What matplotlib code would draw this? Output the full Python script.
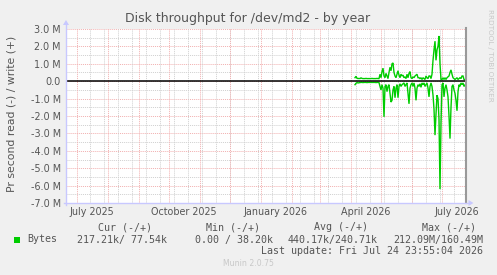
import matplotlib
matplotlib.use("Agg")
import matplotlib.pyplot as plt
import matplotlib.dates as mdates
from matplotlib.lines import Line2D
from matplotlib.patches import Polygon
import numpy as np
import pandas as pd
from datetime import datetime, timedelta

# ---------------- data (MB/s, daily averages) ----------------
start_date = "2026-04-05"
write_m = [0.20, 0.28, 0.17, 0.15, 0.16, 0.15, 0.19, 0.16, 0.15, 0.15, 0.15, 0.16, 0.15,
           0.15, 0.15, 0.15, 0.15, 0.16, 0.15, 0.15, 0.15, 0.15, 0.16, 0.15, 0.15,
           0.40, 0.20, 0.55, 0.75, 0.30, 0.20, 0.45, 0.30, 0.15, 0.50, 0.80, 0.60, 1.00, 1.05,
           0.50, 0.30, 0.20, 0.40, 0.60, 0.35, 0.20, 0.40, 0.30, 0.35, 0.20, 0.25, 0.15, 0.40,
           0.20, 0.45, 0.55, 0.20, 0.15, 0.25, 0.20, 0.30, 0.35, 0.40, 0.20, 0.20, 0.15, 0.20,
           0.10, 0.20, 0.15, 0.10, 0.30, 0.20, 0.15, 0.30, 0.30, 0.15, 0.40, 1.20, 1.80, 2.30,
           1.20, 1.80, 2.00, 2.60, 1.00, 0.10, 0.10, 0.20, 0.10, 0.20, 0.10, 0.20, 0.25, 0.30,
           0.50, 0.65, 0.40, 0.20, 0.15, 0.10, 0.15, 0.20, 0.10, 0.15, 0.20, 0.15, 0.30, 0.30,
           0.10, 0.08]
read_m = [-0.20, -0.12, -0.08, -0.10, -0.09, -0.08, -0.07, -0.07, -0.08, -0.07, -0.07, -0.07, -0.08,
          -0.07, -0.07, -0.07, -0.07, -0.07, -0.07, -0.07, -0.07, -0.08, -0.07, -0.07, -0.08,
          -0.30, -0.50, -0.20, -0.40, -2.05, -0.30, -0.20, -0.60, -0.30, -0.20, -0.70, -1.20, -1.10, -0.50,
          -0.30, -0.95, -0.40, -0.20, -0.95, -0.30, -0.15, -0.30, -0.20, -0.15, -0.10, -0.30, -0.20, -0.10,
          -0.70, -1.30, -0.40, -0.20, -0.10, -0.30, -0.10, -0.40, -1.10, -0.40, -0.20, -0.30, -0.15, -0.35,
          -0.10, -0.20, -0.10, -0.30, -0.20, -0.10, -0.40, -0.90, -0.30, -0.10, -0.30, -0.80, -1.60, -3.10,
          -1.90, -0.80, -1.00, -2.20, -6.20, -2.40, -0.20, -0.10, -0.90, -0.40, -0.20, -0.50, -0.90, -2.00,
          -3.30, -1.50, -0.30, -0.20, -0.50, -0.70, -1.10, -1.70, -0.60, -0.20, -0.30, -0.10, -0.20, -0.10,
          -0.30, -0.22]

yticks_m = [3, 2, 1, 0, -1, -2, -3, -4, -5, -6, -7]
xtick_labels = ["July 2025", "October 2025", "January 2026", "April 2026", "July 2026"]
xtick_dates = ["2025-07-16", "2025-10-16", "2026-01-16", "2026-04-16", "2026-07-16"]

legend_series = "Bytes"
legend_heads = ["Cur (-/+)", "Min (-/+)", "Avg (-/+)", "Max (-/+)"]
legend_vals = ["217.21k/ 77.54k", "0.00 / 38.20k", "440.17k/240.71k", "212.09M/160.49M"]
last_update = "Last update: Fri Jul 24 23:55:04 2026"
end_time = datetime(2026, 7, 24, 23, 55, 4)

# ---------------- figure ----------------
W, H = 497, 275
fig = plt.figure(figsize=(W / 100, H / 100), dpi=100, facecolor="#F0F0F0")

def fx(x):
    return x / W

def fy(y):
    return 1 - y / H

left, right, top, bottom = 66.5, 465.5, 29, 203
ax = fig.add_axes([fx(left), fy(bottom), (right - left) / W, (bottom - top) / H])
ax.set_facecolor("white")
for s in ax.spines.values():
    s.set_visible(False)

t_end = mdates.date2num(end_time)
t_start = t_end - (right - left)
ax.set_xlim(t_start, t_end)
ax.set_ylim(-7e6, 3e6)

# grid
mgrid = "#F2B0B0"
ngrid = "#D0D0D0"
dash = (0, (1, 1))
for v in np.arange(-6.5, 3.0, 1.0):
    ax.axhline(v * 1e6, color=ngrid, lw=0.7, ls=dash, zorder=1)
for v in yticks_m:
    ax.axhline(v * 1e6, color=mgrid, lw=0.7, ls=dash, zorder=1)

d = datetime(2025, 7, 14)
while d < end_time:
    ax.axvline(mdates.date2num(d), color=ngrid, lw=0.7, ls=dash, zorder=1)
    d += timedelta(days=14)
for y, m in [(2025, 7), (2025, 8), (2025, 9), (2025, 10), (2025, 11), (2025, 12), (2026, 1),
             (2026, 2), (2026, 3), (2026, 4), (2026, 5), (2026, 6), (2026, 7)]:
    ax.axvline(mdates.date2num(datetime(y, m, 1)), color=mgrid, lw=0.7, ls=dash, zorder=1)

# data
dates = pd.date_range(start_date, periods=len(write_m), freq="D") + pd.Timedelta(hours=12)
w = np.array(write_m) * 1e6
r = np.array(read_m) * 1e6
ax.plot(dates, r, color="#00CC00", lw=1.0, zorder=3, solid_joinstyle="miter")
ax.plot(dates, w, color="#00CC00", lw=1.0, zorder=3, solid_joinstyle="miter")
ax.axhline(0, color="black", lw=1.1, zorder=4)

# ticks
ax.set_yticks([v * 1e6 for v in yticks_m])
ax.set_yticklabels([("%.1f M" % v) if v != 0 else "0.0" for v in yticks_m])
ax.set_xticks([mdates.date2num(datetime.strptime(s, "%Y-%m-%d")) for s in xtick_dates])
ax.set_xticklabels(xtick_labels)
ax.tick_params(axis="both", length=0, labelsize=6.9, labelcolor="#555555", pad=4)
ax.tick_params(axis="x", pad=3)

# right grey line
fig.add_artist(Line2D([fx(right), fx(right)], [fy(top - 1), fy(bottom)], color="#999999", lw=1.5))
# axes with arrows
axcol = "#C8C8FF"
fig.add_artist(Line2D([fx(left - 0.5), fx(left - 0.5)], [fy(bottom + 2), fy(top - 5)], color=axcol, lw=1))
fig.add_artist(Line2D([fx(left - 3), fx(right + 3)], [fy(bottom), fy(bottom)], color=axcol, lw=1))
fig.add_artist(Polygon([[fx(left - 3.5), fy(top - 4)], [fx(left + 2.5), fy(top - 4)], [fx(left - 0.5), fy(top - 9)]],
                       closed=True, color=axcol, lw=0))
fig.add_artist(Polygon([[fx(right + 3), fy(bottom - 3)], [fx(right + 3), fy(bottom + 3)], [fx(right + 8), fy(bottom)]],
                       closed=True, color=axcol, lw=0))

# texts
tc = "#555555"
fig.text(fx(248), fy(18.5), "Disk throughput for /dev/md2 - by year", ha="center", va="center",
         fontsize=9.0, color=tc)
fig.text(fx(12), fy(114), "Pr second read (-) / write (+)", rotation=90, ha="center", va="center",
         fontsize=7.8, color=tc)
fig.text(fx(490), fy(55), "RRDTOOL / TOBI OETIKER", rotation=270, ha="center", va="center",
         fontsize=5.2, color="#C8C8C8")

mono = "DejaVu Sans Mono"
mfs = 7.2
centers = [125, 233, 341, 449]
for c, h in zip(centers, legend_heads):
    fig.text(fx(c), fy(227), h, ha="center", va="center", family=mono, fontsize=mfs, color=tc)
rights = [167, 273, 378, 483]
for rr, v in zip(rights, legend_vals):
    fig.text(fx(rr), fy(239.5), v, ha="right", va="center", family=mono, fontsize=mfs, color=tc)
fig.add_artist(plt.Rectangle((fx(13.5), fy(242.5)), 6 / W, 6 / H, color="#00CC00", lw=0))
fig.text(fx(27), fy(239.5), legend_series, ha="left", va="center", family=mono, fontsize=mfs, color=tc)
fig.text(fx(483), fy(251.5), last_update, ha="right", va="center", family=mono, fontsize=mfs, color=tc)
fig.text(fx(248), fy(264), "Munin 2.0.75", ha="center", va="center", fontsize=5.6, color="#C8C8C8")

fig.savefig("out.png", dpi=100, facecolor=fig.get_facecolor())
